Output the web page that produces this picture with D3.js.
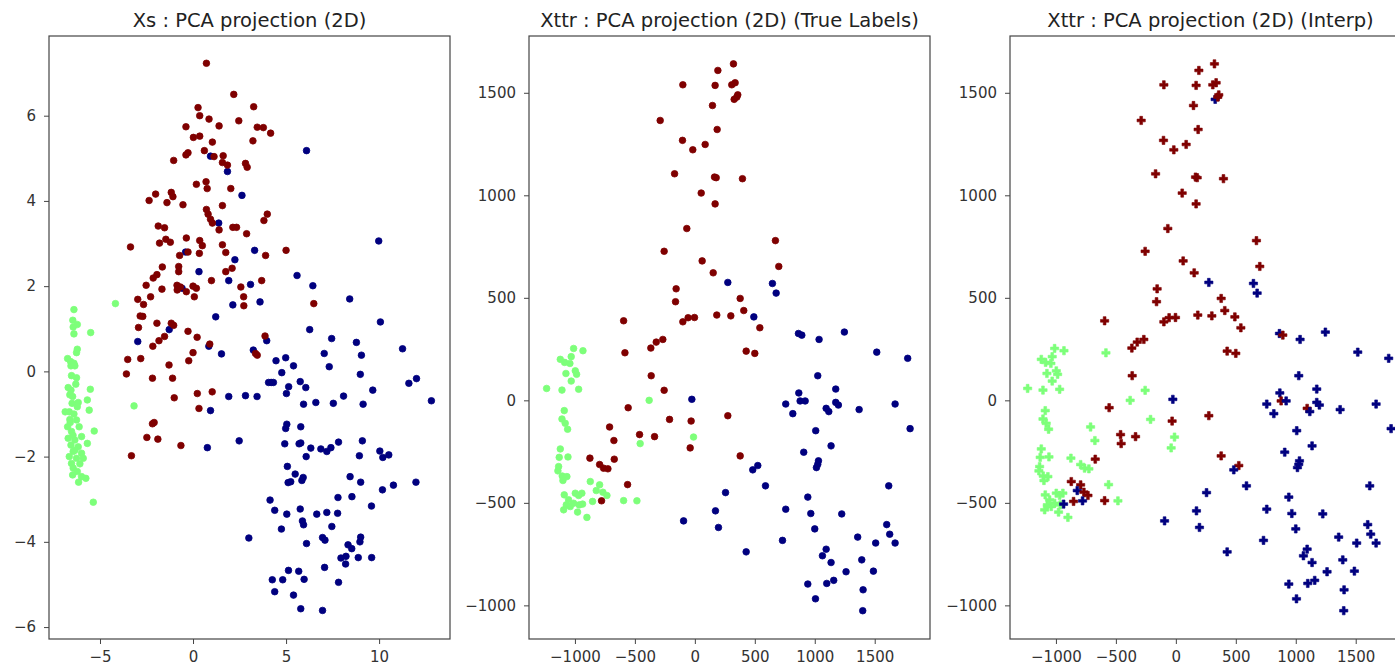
<!DOCTYPE html>
<html>
<head>
<meta charset="utf-8">
<script src="https://cdn.jsdelivr.net/npm/d3@7"></script>
<style>
  body { margin: 0; background: #fff; }
  svg { display: block; font-family: "DejaVu Sans", sans-serif; }
</style>
</head>
<body>
<svg id="chart" width="1395" height="665"></svg>
<script>
// class codes: 0 = blue, 1 = green, 2 = red (jet colormap)
const classColors = ["#00007f", "#7dff7a", "#7f0000"];

// ---- panel 1 : Xs, [x, y] per class
const xsRed = [
  [0.72,7.23],[2.19,6.5],[0.27,6.19],[3.26,6.21],[0.36,6.0],[0.86,5.92],[2.46,5.88],[-0.38,5.74],[1.40,5.76],[3.45,5.73],
  [3.78,5.72],[4.17,5.59],[0.02,5.49],[0.36,5.52],[1.04,5.38],[3.22,5.41],[0.61,5.18],[-0.27,5.13],[-0.38,5.08],[1.13,5.04],
  [1.62,5.06],[-1.04,4.95],[1.58,4.9],[1.85,4.84],[2.82,4.88],[2.91,4.79],[0.18,4.39],[0.70,4.45],[0.76,4.29],[2.03,4.29],
  [-2.36,4.01],[-2.01,4.16],[-1.17,4.2],[-1.08,4.1],[-1.40,3.96],[-0.54,3.91],[1.58,3.89],[0.72,3.8],[0.81,3.69],[0.94,3.57],
  [1.04,3.48],[1.40,3.32],[3.99,3.69],[3.81,3.54],[-1.87,3.41],[-1.53,3.37],[2.14,3.38],[2.34,3.38],[2.88,3.23],[-3.36,2.92],
  [-1.80,3.01],[-1.46,3.1],[-1.22,3.03],[-0.36,3.13],[0.36,3.07],[0.50,2.95],[1.58,2.97],[-0.72,2.72],[-0.27,2.8],[0.34,2.77],
  [1.76,2.79],[5.0,2.84],[3.9,2.72],[-1.65,2.45],[-0.77,2.46],[-0.77,2.34],[-1.94,2.27],[-2.14,2.19],[1.76,2.34],[2.1,2.42],
  [0.99,2.13],[3.69,2.13],[-2.52,2.02],[-1.67,1.93],[-0.86,2.02],[-0.85,1.91],[-0.68,1.98],[-0.36,1.87],[0,2.0],[0.18,1.95],
  [0.07,1.75],[2.57,1.98],[2.72,1.75],[2.73,1.54],[-2.28,1.75],[-2.97,1.69],[-2.66,1.57],[-2.84,1.30],[-2.70,1.29],[6.49,1.59],
  [-2.93,1.03],[-1.94,1.13],[-1.17,1.13],[-1.04,1.08],[-0.27,0.94],[0.22,0.80],[-1.53,0.82],[-1.83,0.72],[-2.16,0.59],[0.90,0.64],
  [3.87,0.83],[-3.51,0.28],[-2.81,0.30],[-3.58,-0.06],[-2.18,-0.16],[-1.29,0.15],[-1.10,-0.16],[0,0.44],[-0.23,0.25],[-1.01,-0.62],
  [0.23,-0.52],[1.03,-0.48],[0.32,-0.87],[-2.09,-1.2],[-2.18,-1.23],[-2.48,-1.55],[-1.89,-1.59],[-0.65,-1.74],[-3.31,-1.98],[3.36,0.42],
  [3.45,0.38]
];
const xsBlue = [
  [6.1,5.18],[0.94,5.05],[1.85,4.69],[2.63,4.13],[1.38,3.48],[-0.4,2.8],[3.31,2.84],[2.25,2.62],[0.32,2.34],[1.92,2.13],
  [3.09,2.04],[-0.59,1.95],[5.59,2.25],[6.44,2.01],[8.42,1.70],[9.98,3.06],[2.14,1.56],[3.6,1.63],[1.22,1.28],[6.27,0.98],
  [10.07,1.16],[-1.28,0.98],[-2.97,0.7],[3.96,0.72],[7.45,0.77],[8.78,0.68],[11.26,0.53],[0.85,0.59],
  [3.24,0.5],[1.53,0.41],[4.46,0.25],[4.98,0.32],[5.40,0.13],[4.77,-0.03],[7.05,0.42],[7.32,0.11],[9.05,0.38],[8.99,-0.07],
  [11.6,-0.28],[12.01,-0.17],[12.81,-0.69],[9.66,-0.44],[4.06,-0.26],[4.32,-0.26],[4.2,-0.26],[5.14,-0.36],[5.02,-0.52],[5.76,-0.24],
  [6.06,-0.38],[1.92,-0.59],[2.82,-0.57],[3.44,-0.59],[0.94,-0.92],[5.94,-0.77],[6.6,-0.73],[7.54,-0.75],[8.09,-0.58],[9.14,-0.77],
  [2.48,-1.63],[0.77,-1.79],[5.04,-1.24],[4.98,-1.34],[5.79,-1.30],[4.93,-1.70],[5.7,-1.70],[5.79,-1.68],[6.33,-1.80],[6.87,-1.82],
  [7.19,-1.88],[7.41,-1.79],[7.82,-1.66],[9.1,-1.63],[6.08,-2.0],[8.94,-1.98],[10.04,-1.87],[10.2,-2.02],[10.52,-1.96],[5.07,-2.23],
  [5.49,-2.41],[5.11,-2.61],[5.25,-2.59],[5.85,-2.56],[5.92,-2.49],[8.44,-2.47],[9.01,-2.6],[11.98,-2.6],[10.18,-2.78],[10.77,-2.67],
  [4.14,-3.02],[4.39,-3.26],[5.04,-3.35],[5.76,-3.23],[4.75,-3.70],[5.88,-3.51],[5.94,-3.6],[6.65,-3.35],[7.19,-3.31],[7.79,-2.96],
  [7.77,-3.33],[7.46,-3.64],[8.54,-2.94],[9.59,-3.16],[3.0,-3.91],[6.1,-4.04],[6.96,-3.9],[7.09,-3.96],[8.33,-4.07],[8.53,-4.16],
  [9.01,-3.89],[8.97,-4.0],[7.95,-4.38],[8.22,-4.34],[8.2,-4.52],[8.88,-4.37],[9.6,-4.37],[7.07,-4.6],[5.13,-4.67],[5.68,-4.69],
  [4.26,-4.89],[4.82,-4.89],[5.97,-4.88],[7.82,-4.95],[4.39,-5.17],[5.4,-5.25],[5.79,-5.57],[6.96,-5.61]
];
const xsGreen = [
  [-6.4,1.45],[-6.46,1.2],[-6.22,1.1],[-6.44,1.04],[-6.4,0.88],[-5.5,0.91],[-4.17,1.59],[-6.22,0.52],[-6.26,0.44],[-6.74,0.30],
  [-6.58,0.23],[-6.4,0.19],[-6.56,0.13],[-6.35,0.13],[-6.53,-0.1],[-6.26,-0.15],[-5.52,-0.42],[-6.71,-0.38],[-6.56,-0.44],[-6.62,-0.55],
  [-6.47,-0.59],[-5.68,-0.67],[-6.17,-0.73],[-6.22,-0.83],[-5.58,-0.91],[-6.87,-0.95],[-6.65,-0.95],[-6.4,-1.0],[-6.62,-1.13],[-6.26,-1.14],
  [-6.74,-1.3],[-6.12,-1.3],[-5.31,-1.4],[-6.53,-1.41],[-5.99,-1.53],[-6.71,-1.57],[-6.35,-1.61],[-5.68,-1.69],[-6.56,-1.73],[-6.17,-1.77],
  [-6.44,-1.88],[-5.99,-1.92],[-6.65,-2.0],[-6.26,-2.04],[-5.9,-2.04],[-6.53,-2.16],[-6.08,-2.17],[-6.44,-2.27],[-6.22,-2.35],[-6.47,-2.43],
  [-5.99,-2.47],[-5.76,-2.51],[-6.15,-2.6],[-5.36,-3.07],[-3.17,-0.81],[-6.6,-1.2],[-6.45,-1.5],[-6.3,-0.3],[-6.5,-0.75],[-6.35,-1.85]
];

// ---- panels 2 and 3 : Xttr, [x, y, interpolated class] grouped by true class
const xttrRed = [
  [322,1641,2],[192,1609,2],[-100,1539,2],[169,1536,2],[308,1539,2],[336,1549,2],[147,1438,2],[328,1468,0],[350,1479,2],[358,1490,2],
  [-289,1365,2],[186,1321,2],[-103,1268,2],[-17,1222,2],[86,1248,2],[-169,1105,2],[164,1089,2],[178,1086,2],[397,1081,2],[53,1011,2],
  [169,958,2],[-67,838,2],[-256,727,2],[672,779,2],[61,680,2],[700,653,2],[153,622,2],[-156,544,2],[-161,481,2],[378,497,2],
  [408,438,2],[183,416,2],[300,412,2],[-594,388,2],[-100,383,2],[-56,403,2],[-3,404,2],[542,354,2],[-322,284,2],[-267,297,2],
  [-367,255,2],[428,240,2],[-583,232,1],[500,229,2],[-364,120,2],[-256,49,1],[-556,-36,2],[-211,-93,1],[-31,-101,2],[275,-75,2],
  [-711,-130,1],[-675,-196,1],[-461,-167,2],[-336,-177,2],[-39,-232,1],[-875,-282,1],[-672,-287,2],[-794,-313,1],[-761,-331,1],[-725,-334,1],
  [378,-271,2],[-561,-411,1],[-778,-490,0]
];
const xttrBlue = [
  [275,575,0],[647,570,0],[678,523,0],[492,407,2],[864,326,0],[892,318,2],[1036,297,0],[1247,333,0],[1517,235,0],[-25,5,0],
  [1775,205,0],[1025,120,0],[1175,55,0],[867,36,0],[758,-18,0],[817,-65,0],[878,-3,2],[920,-3,0],[1008,-148,0],[1095,-39,2],
  [1117,-55,0],[1175,-10,0],[1197,-23,0],[1370,-45,0],[1670,-18,0],[1795,-138,0],[1136,-222,0],[908,-253,0],[1031,-295,0],[1025,-312,0],
  [1014,-328,0],[525,-318,2],[483,-339,0],[589,-417,0],[1617,-417,0],[256,-450,0],[942,-472,0],[758,-531,0],[967,-552,0],[1225,-554,0],
  [172,-539,0],[-94,-588,0],[197,-620,0],[1000,-627,0],[1600,-606,0],[1625,-653,0],[1670,-696,0],[1508,-696,0],[1358,-667,0],[731,-683,0],
  [1095,-726,0],[1064,-758,0],[1136,-791,0],[1392,-778,0],[428,-739,0],[1261,-836,0],[1489,-833,0],[942,-896,0],[1100,-893,0],[1158,-878,0],
  [1403,-924,0],[1006,-968,0],[1400,-1026,0]
];
const xttrGreen = [
  [-1011,253,1],[-933,242,1],[-1122,200,1],[-1086,185,1],[-1031,213,1],[-1042,180,1],[-1075,131,1],[-997,144,1],[-986,127,1],[-1031,94,1],
  [-969,54,1],[-1108,50,1],[-1236,58,1],[-381,0,1],[-1089,-50,1],[-1108,-91,1],[-1081,-112,1],[-1061,-141,1],[-11,-179,1],[-456,-211,2],
  [-1122,-237,1],[-1131,-278,1],[-1058,-276,1],[-1136,-323,1],[-1142,-344,1],[-1106,-369,1],[-1067,-372,1],[-1100,-391,1],[-872,-396,2],[-794,-412,2],
  [-822,-440,0],[-767,-448,2],[-733,-464,2],[-594,-489,2],[-483,-490,1],[-1089,-461,1],[-997,-453,1],[-969,-464,1],[-942,-453,1],[-853,-493,2],
  [-1072,-510,1],[-1039,-518,1],[-1094,-534,1],[-1011,-502,1],[-964,-510,1],[-936,-506,0],[-978,-545,1],[-900,-571,1],[-1053,-485,1]
];

// tick values and titles
const xsTicksX = [-5, 0, 5, 10];
const xsTicksY = [-6, -4, -2, 0, 2, 4, 6];
const xttrTicks = [-1000, -500, 0, 500, 1000, 1500];
const titles = [
  "Xs : PCA projection (2D)",
  "Xttr : PCA projection (2D) (True Labels)",
  "Xttr : PCA projection (2D) (Interp)"
];

const svg = d3.select("#chart");
const plotTop = 36, plotBottom = 639;
const panelLeft = [49, 529, 1010], panelW = 401;

// builds axes frame + title, returns scales
function makePanel(i, xDom, yDom, xTicks, yTicks) {
  let x0 = panelLeft[i];
  let x = d3.scaleLinear().domain(xDom).range([x0, x0 + panelW]);
  let y = d3.scaleLinear().domain(yDom).range([plotBottom, plotTop]);
  let g = svg.append("g").attr("class", "panel-" + i);

  let xAxis = g.append("g")
    .attr("transform", `translate(0,${plotBottom})`)
    .call(d3.axisBottom(x).tickValues(xTicks).tickFormat(d3.format("d")).tickSizeOuter(0).tickSize(5).tickPadding(7));
  let yAxis = g.append("g")
    .attr("transform", `translate(${x0},0)`)
    .call(d3.axisLeft(y).tickValues(yTicks).tickFormat(d3.format("d")).tickSizeOuter(0).tickSize(5).tickPadding(8));
  [xAxis, yAxis].forEach(a => {
    a.select(".domain").remove();
    a.selectAll("line").attr("stroke", "#444");
    a.selectAll("text").attr("font-size", 15).attr("fill", "#333").attr("font-family", "DejaVu Sans, sans-serif");
  });

  let plot = g.append("g");
  g.append("rect")
    .attr("x", x0).attr("y", plotTop)
    .attr("width", panelW).attr("height", plotBottom - plotTop)
    .attr("fill", "none").attr("stroke", "#444").attr("stroke-width", 1.2);

  g.append("text")
    .attr("x", x0 + panelW / 2).attr("y", 27)
    .attr("text-anchor", "middle")
    .attr("font-size", 19.5).attr("fill", "#222")
    .text(titles[i]);

  return { x, y, plot };
}

// panel 1
let p1 = makePanel(0, [-7.74, 13.81], [-6.28, 7.87], xsTicksX, xsTicksY);
[[xsBlue, 0], [xsRed, 2], [xsGreen, 1]].forEach(([pts, c]) => {
  p1.plot.selectAll(null).data(pts).enter().append("circle")
    .attr("cx", d => p1.x(d[0]))
    .attr("cy", d => p1.y(d[1]))
    .attr("r", 3.3)
    .attr("fill", classColors[c])
    .attr("stroke", classColors[c]).attr("stroke-width", 0.8);
});

const xttrAll = [xttrBlue, xttrGreen, xttrRed];
const trueClass = [0, 1, 2];

// panel 2 : true labels, circles
let p2 = makePanel(1, [-1383, 1961], [-1164, 1777], xttrTicks, xttrTicks);
xttrAll.forEach((pts, k) => {
  p2.plot.selectAll(null).data(pts).enter().append("circle")
    .attr("cx", d => p2.x(d[0]))
    .attr("cy", d => p2.y(d[1]))
    .attr("r", 3.3)
    .attr("fill", classColors[trueClass[k]])
    .attr("stroke", classColors[trueClass[k]]).attr("stroke-width", 0.8);
});

// panel 3 : interpolated labels, filled plus markers
let p3 = makePanel(2, [-1383, 1961], [-1164, 1777], xttrTicks, xttrTicks);
let cross = d3.symbol().type(d3.symbolCross).size(38);
xttrAll.forEach(pts => {
  p3.plot.selectAll(null).data(pts).enter().append("path")
    .attr("d", cross)
    .attr("transform", d => `translate(${p3.x(d[0])},${p3.y(d[1])})`)
    .attr("fill", d => classColors[d[2]])
    .attr("stroke", d => classColors[d[2]]).attr("stroke-width", 0.6);
});
</script>
</body>
</html>
